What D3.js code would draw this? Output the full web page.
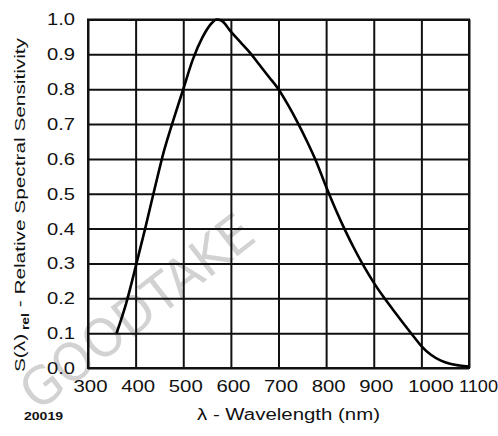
<!DOCTYPE html>
<html><head><meta charset="utf-8">
<script src="https://cdn.jsdelivr.net/npm/d3@7"></script>
<style>body{margin:0;background:#fff}svg{display:block}text{font-family:"Liberation Sans",Arial,sans-serif}</style>
</head><body><svg id="c" width="498" height="436"></svg>
<script>
const wavelength = [360,380,400,420,440,460,480,500,520,540,560,570,580,600,620,640,660,680,700,720,740,760,780,800,820,840,860,880,900,920,940,960,980,1000,1020,1040,1060,1080,1100];
const sensitivity = [0.10,0.185,0.29,0.40,0.515,0.625,0.715,0.80,0.885,0.948,0.99,1.0,0.997,0.965,0.935,0.905,0.87,0.835,0.80,0.755,0.705,0.65,0.59,0.52,0.455,0.395,0.34,0.29,0.245,0.205,0.168,0.132,0.097,0.063,0.038,0.022,0.012,0.007,0.004];
const xTicks = [300,400,500,600,700,800,900,1000,1100];
const yTicks = [0,0.1,0.2,0.3,0.4,0.5,0.6,0.7,0.8,0.9,1.0];
const xTitle = "λ - Wavelength (nm)";
const yTitleMain = "S(λ)", yTitleSub = "rel", yTitleRest = " - Relative Spectral Sensitivity";
const figId = "20019";
const watermark = "GOODTAKE";

const svg = d3.select("#c");
const L=88,R=469,T=19.5,B=368;
const x = d3.scaleLinear().domain([300,1100]).range([L,R]);
const y = d3.scaleLinear().domain([0,1]).range([B,T]);

// watermark
svg.append("text").attr("transform","translate(148,326) rotate(-38)")
  .attr("text-anchor","middle").attr("font-size",52).attr("fill","#d2d2d2")
  .attr("textLength",280).attr("lengthAdjust","spacingAndGlyphs")
  .style("font-family","'DejaVu Sans Condensed','Liberation Sans Narrow',sans-serif").style("font-weight",200)
  .text(watermark);

// grid via axes
const gx = svg.append("g").attr("transform",`translate(0,${B})`)
  .call(d3.axisBottom(x).tickValues(xTicks).tickSize(-(B-T)).tickFormat(d3.format("d")));
gx.select(".domain").remove();
gx.selectAll("line").attr("stroke","#111").attr("stroke-width",2);
gx.selectAll("text").attr("y",24).attr("dy",0).attr("font-size",17).attr("fill","#111")
  .attr("dx",d=>d>=1000?9:2)
  .attr("textLength",d=>d>=1000?(d===1000?46:39):34).attr("lengthAdjust","spacingAndGlyphs")
  .style("font-family","'Liberation Sans',Arial,sans-serif");

const gy = svg.append("g").attr("transform",`translate(${L},0)`)
  .call(d3.axisLeft(y).tickValues(yTicks).tickSize(-(R-L)).tickFormat(d3.format(".1f")));
gy.select(".domain").remove();
gy.selectAll("line").attr("stroke","#111").attr("stroke-width",2);
gy.selectAll("text").attr("x",-13).attr("font-size",17).attr("fill","#111")
  .attr("textLength",28).attr("lengthAdjust","spacingAndGlyphs")
  .style("font-family","'Liberation Sans',Arial,sans-serif");

svg.append("rect").attr("x",L).attr("y",T).attr("width",R-L).attr("height",B-T)
  .attr("fill","none").attr("stroke","#111").attr("stroke-width",2);

// curve
const data = wavelength.map((w,i)=>({w,s:sensitivity[i]}));
svg.append("path").datum(data)
  .attr("fill","none").attr("stroke","#000").attr("stroke-width",2.6).attr("stroke-linejoin","round")
  .attr("d",d3.line().x(d=>x(d.w)).y(d=>y(d.s)).curve(d3.curveMonotoneX));

// titles
svg.append("text").attr("x",197).attr("y",420).attr("font-size",16).attr("fill","#111")
  .attr("textLength",183).attr("lengthAdjust","spacingAndGlyphs").text(xTitle);

const yt = svg.append("text").attr("transform","translate(25,372) rotate(-90)")
  .attr("font-size",15).attr("fill","#111")
  .attr("textLength",334).attr("lengthAdjust","spacingAndGlyphs");
yt.append("tspan").text(yTitleMain);
yt.append("tspan").attr("font-size",10).attr("dy",4).attr("font-weight","bold").text(" "+yTitleSub);
yt.append("tspan").attr("dy",-4).text(yTitleRest);

svg.append("text").attr("x",24).attr("y",420).attr("font-size",11).attr("font-weight","bold").attr("fill","#111")
  .attr("textLength",39).attr("lengthAdjust","spacingAndGlyphs").text(figId);
</script></body></html>
